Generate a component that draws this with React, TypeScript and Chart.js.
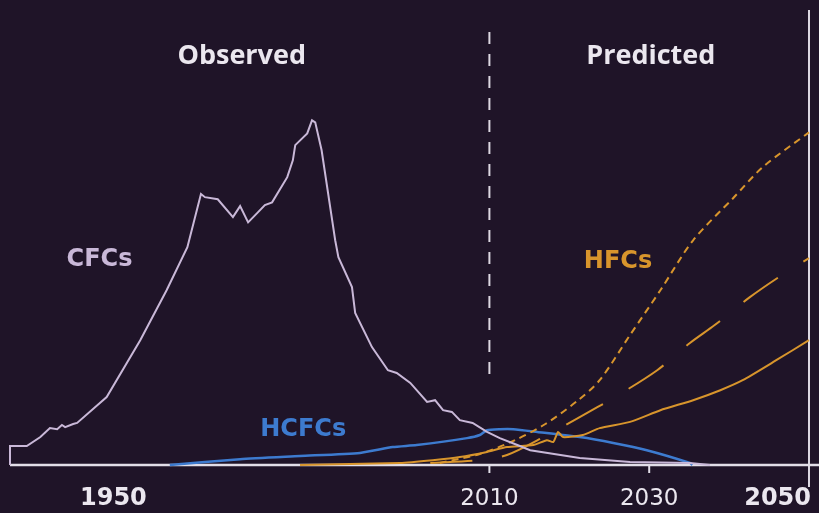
import React, { useEffect, useRef } from "react";
import { Chart, registerables } from "chart.js";

Chart.register(...registerables);

// CFCs (observed)
const cfcYears = [1950, 1950, 1952.1, 1953.8, 1955.0, 1955.9, 1956.5, 1956.9, 1957.9, 1958.4, 1962.1, 1966.3, 1969.6, 1972.2, 1973.9, 1974.4, 1976.0, 1977.9, 1978.8, 1979.8, 1980.9, 1981.9, 1982.8, 1984.7, 1985.4, 1985.7, 1987.2, 1987.8, 1988.2, 1989.0, 1990.7, 1991.1, 1992.8, 1993.2, 1995.3, 1997.3, 1998.4, 2000.1, 2002.2, 2003.2, 2004.2, 2005.3, 2006.3, 2007.9, 2009.7, 2011.3, 2013.5, 2015.1, 2021.3, 2027.6, 2035.1, 2037.6];
const cfcValues = [0, 5.5, 5.5, 8.1, 10.7, 10.4, 11.6, 11.0, 11.9, 12.2, 19.7, 36.2, 50.7, 63.2, 78.6, 77.7, 77.1, 71.9, 75.1, 70.4, 73.0, 75.4, 76.2, 83.5, 88.4, 92.8, 96.2, 100, 99.4, 91.3, 65.2, 60.3, 51.6, 44.1, 34.2, 27.5, 26.7, 23.8, 18.3, 18.8, 15.9, 15.4, 13.0, 12.2, 9.6, 7.8, 5.8, 4.3, 2.0, 0.9, 0.6, 0];

// HCFCs
const hcfcYears = [1970.0, 1978.8, 1986.3, 1993.8, 1997.9, 2000.9, 2007.2, 2008.8, 2009.7, 2011.3, 2013.0, 2016.0, 2021.3, 2025.5, 2029.7, 2035.1, 2035.4];
const hcfcValues = [0, 1.7, 2.6, 3.5, 5.2, 5.8, 7.8, 8.7, 10.1, 10.4, 10.4, 9.6, 8.1, 6.4, 4.3, 0.6, 0];

// HFCs – observed + lower projection (solid)
const hfcYears = [1986.3, 1998.8, 2002.9, 2006.3, 2009.7, 2012.2, 2015.5, 2017.2, 2018.0, 2018.6, 2019.2, 2021.7, 2023.8, 2027.6, 2031.4, 2035.5, 2038.9, 2041.7, 2045.9, 2050];
const hfcValues = [0, 0.6, 1.4, 2.3, 3.8, 5.2, 5.8, 7.2, 6.7, 9.6, 8.1, 8.7, 10.7, 12.5, 15.9, 18.8, 21.7, 24.6, 30.4, 36.2];

// HFCs – high projection (short dashes)
const hfcHighYears = [2003.8, 2008.8, 2013.0, 2017.0, 2021.0, 2023.8, 2027.6, 2031.4, 2035.5, 2040.5, 2044.2, 2050];
const hfcHighValues = [0.6, 3.2, 7.0, 11.9, 18.6, 24.6, 37.7, 50.7, 65.2, 77.4, 86.4, 96.5];

// HFCs – middle projection (long dashes)
const hfcMidYears = [2002.6, 2008.8, 2012.2, 2017.0, 2021.3, 2025.7, 2031.0, 2035.1, 2038.2, 2042.6, 2046.6, 2050];
const hfcMidValues = [0.6, 1.4, 2.9, 8.4, 13.9, 19.7, 27.5, 35.4, 40.6, 48.7, 55.1, 60.0];

const tickYears = [1950, 2010, 2030, 2050];
const tickLabels = ["1950", "2010", "2030", "2050"];
const boldTicks = [true, false, false, true];
const dividerYear = 2010;
const endYear = 2050;

const BG = "#1f1428";
const CFC_COLOR = "#c9b8d8";
const HCFC_COLOR = "#3d7bcf";
const HFC_COLOR = "#d8952c";
const AXIS_COLOR = "#e2dee8";

const pts = (xs: number[], ys: number[]) => xs.map((x, i) => ({ x, y: ys[i] }));

const decor = {
  id: "decor",
  beforeDraw(chart: any) {
    const { ctx, width, height } = chart;
    ctx.save();
    ctx.fillStyle = BG;
    ctx.fillRect(0, 0, width, height);
    ctx.restore();
  },
  beforeDatasetsDraw(chart: any) {
    const { ctx, chartArea, width } = chart;
    const x = chart.scales.x;
    const y = chart.scales.y;
    const base = y.getPixelForValue(0);
    ctx.save();
    // dashed divider
    const dx = x.getPixelForValue(dividerYear);
    ctx.strokeStyle = "#dcd8e2";
    ctx.lineWidth = 2;
    ctx.setLineDash([12, 10]);
    ctx.beginPath();
    ctx.moveTo(dx, 32);
    ctx.lineTo(dx, 383);
    ctx.stroke();
    ctx.setLineDash([]);
    // end line
    const ex = x.getPixelForValue(endYear);
    ctx.beginPath();
    ctx.moveTo(ex, chartArea.top);
    ctx.lineTo(ex, base + 22);
    ctx.stroke();
    // baseline
    ctx.strokeStyle = AXIS_COLOR;
    ctx.lineWidth = 2.5;
    ctx.beginPath();
    ctx.moveTo(chartArea.left, base);
    ctx.lineTo(width, base);
    ctx.stroke();
    // tick marks
    ctx.lineWidth = 2;
    [2010, 2030].forEach((t) => {
      const px = x.getPixelForValue(t);
      ctx.beginPath();
      ctx.moveTo(px, base);
      ctx.lineTo(px, base + 8);
      ctx.stroke();
    });
    ctx.restore();
  },
  afterDatasetsDraw(chart: any) {
    const { ctx, chartArea } = chart;
    const x = chart.scales.x;
    const y = chart.scales.y;
    ctx.save();
    ctx.textBaseline = "middle";
    // tick labels
    tickYears.forEach((t, i) => {
      ctx.fillStyle = "#ebe7ef";
      ctx.font = boldTicks[i] ? 'bold 24px "DejaVu Sans", sans-serif' : 'normal 23px "DejaVu Sans", sans-serif';
      let px = x.getPixelForValue(t);
      if (i === 0) {
        ctx.textAlign = "left";
        px = chartArea.left + 70;
      } else if (i === tickYears.length - 1) {
        ctx.textAlign = "right";
        px = px + 2;
      } else {
        ctx.textAlign = "center";
      }
      ctx.fillText(tickLabels[i], px, 499);
    });
    // section titles
    ctx.textAlign = "center";
    ctx.fillStyle = "#ebe7ef";
    ctx.font = 'bold 27px "Open Sans", sans-serif';
    ctx.fillText("Observed", x.getPixelForValue(1979.0), 56);
    ctx.fillText("Predicted", x.getPixelForValue(2030.2), 56);
    // series labels
    ctx.font = 'bold 24px "DejaVu Sans", sans-serif';
    ctx.fillStyle = CFC_COLOR;
    ctx.fillText("CFCs", x.getPixelForValue(1961.2), y.getPixelForValue(59.4));
    ctx.fillStyle = HCFC_COLOR;
    ctx.fillText("HCFCs", x.getPixelForValue(1986.7), y.getPixelForValue(10.2));
    ctx.fillStyle = HFC_COLOR;
    ctx.fillText("HFCs", x.getPixelForValue(2026.1), y.getPixelForValue(59.1));
    ctx.restore();
  },
};

export default function App() {
  const ref = useRef<HTMLCanvasElement | null>(null);
  useEffect(() => {
    if (!ref.current) return;
    const chart = new Chart(ref.current, {
      type: "line",
      data: {
        datasets: [
          {
            label: "CFCs",
            data: pts(cfcYears, cfcValues),
            borderColor: CFC_COLOR,
            borderWidth: 2,
            pointRadius: 0,
            tension: 0,
            clip: false,
          },
          {
            label: "HFCs high",
            data: pts(hfcHighYears, hfcHighValues),
            borderColor: HFC_COLOR,
            borderWidth: 2,
            borderDash: [7, 5],
            pointRadius: 0,
            tension: 0.3,
            clip: false,
          },
          {
            label: "HFCs mid",
            data: pts(hfcMidYears, hfcMidValues),
            borderColor: HFC_COLOR,
            borderWidth: 2,
            borderDash: [42, 30],
            pointRadius: 0,
            tension: 0.3,
            clip: false,
          },
          {
            label: "HFCs",
            data: pts(hfcYears, hfcValues),
            borderColor: HFC_COLOR,
            borderWidth: 2,
            pointRadius: 0,
            tension: 0.2,
            clip: false,
          },
          {
            label: "HCFCs",
            data: pts(hcfcYears, hcfcValues),
            borderColor: HCFC_COLOR,
            borderWidth: 2.5,
            pointRadius: 0,
            tension: 0.2,
            clip: false,
          },
        ],
      },
      options: {
        animation: false,
        responsive: false,
        maintainAspectRatio: false,
        layout: { padding: { left: 10, right: 10, top: 10, bottom: 48 } },
        plugins: { legend: { display: false }, tooltip: { enabled: false } },
        scales: {
          x: { type: "linear", min: 1950, max: 2050, display: false },
          y: { min: 0, max: 132, display: false },
        },
      },
      plugins: [decor],
    });
    return () => chart.destroy();
  }, []);
  return (
    <div style={{ position: "fixed", left: 0, top: 0, width: 819, height: 513, background: BG }}>
      <canvas ref={ref} width={819} height={513} style={{ display: "block" }} />
    </div>
  );
}
